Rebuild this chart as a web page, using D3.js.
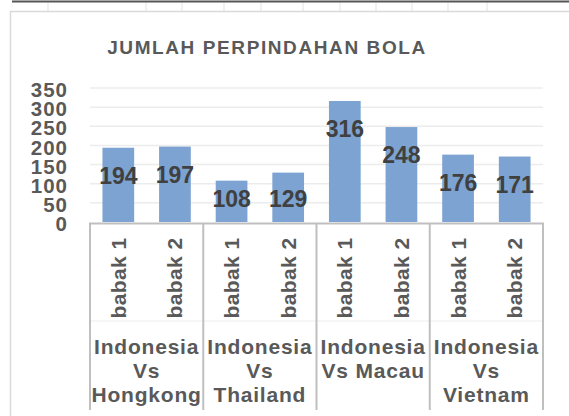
<!DOCTYPE html>
<html><head><meta charset="utf-8">
<script src="https://cdn.jsdelivr.net/npm/d3@7"></script>
<style>
html,body{margin:0;padding:0;background:#fff;}
svg{display:block;font-family:"Liberation Sans",Arial,sans-serif;}
</style></head>
<body><svg id="c" width="569" height="416"></svg>
<script>
const title = "JUMLAH PERPINDAHAN BOLA";
const groups = [["Indonesia","Vs","Hongkong"],["Indonesia","Vs","Thailand"],["Indonesia","Vs Macau"],["Indonesia","Vs","Vietnam"]];
const halves = ["babak 1","babak 2"];
const values = [194,197,108,129,316,248,176,171];
const yTicks = [0,50,100,150,200,250,300,350];

const svg = d3.select("#c");
// spreadsheet remnants above chart
const sheetCols = [48,146,182,224,261,303,340,376,412,448,487];
svg.selectAll("line.sc").data(sheetCols).join("line")
  .attr("x1",d=>d).attr("x2",d=>d).attr("y1",2).attr("y2",11)
  .attr("stroke","#e3e3e3").attr("stroke-width",1);
svg.append("line").attr("x1",12).attr("x2",569).attr("y1",1.5).attr("y2",1.5)
  .attr("stroke","#555").attr("stroke-width",2);
// chart border
svg.append("path").attr("d","M10.5,416 V11.5 H569").attr("fill","none")
  .attr("stroke","#d9d9d9").attr("stroke-width",1.5);

svg.append("text").attr("x",267).attr("y",54).attr("text-anchor","middle")
  .attr("font-size",19).attr("font-weight","bold").attr("fill","#595959")
  .attr("letter-spacing","1.6px").text(title);

const cats = [];
groups.forEach((g,gi)=>halves.forEach((h,hi)=>cats.push(gi+"|"+hi)));

const x = d3.scaleBand().domain(cats).range([90,543]).paddingInner(0.44).paddingOuter(0.22);
const y = d3.scaleLinear().domain([0,350]).range([222,88]);

// gridlines
svg.append("g").selectAll("line").data(yTicks.filter(t=>t>0)).join("line")
  .attr("x1",90).attr("x2",543).attr("y1",d=>y(d)).attr("y2",d=>y(d))
  .attr("stroke","#ececec").attr("stroke-width",1.5);

// y axis labels
const yAxis = d3.axisLeft(y).tickValues(yTicks).tickSize(0).tickPadding(0);
const ya = svg.append("g").attr("transform","translate(68,0)").call(yAxis);
ya.select(".domain").remove();
ya.selectAll("text").attr("font-size",20.5).attr("font-weight","bold").attr("fill","#595959")
  .attr("font-family","'Liberation Sans',Arial,sans-serif").attr("letter-spacing","1px")
  .attr("dy","0.42em");

// bars
svg.append("g").selectAll("rect").data(values).join("rect")
  .attr("x",(d,i)=>x(cats[i])).attr("width",x.bandwidth())
  .attr("y",d=>y(d)).attr("height",d=>y(0)-y(d))
  .attr("fill","#7ca3d1");

// data labels
svg.append("g").selectAll("text").data(values).join("text")
  .attr("x",(d,i)=>x(cats[i])+x.bandwidth()/2)
  .attr("y",d=>Math.min(y(d)+28, y(0)-23.5))
  .attr("dy","0.36em").attr("text-anchor","middle")
  .attr("font-size",23).attr("font-weight","bold").attr("fill","#404040")
  .text(d=>d);

// category axis boxes
const gap = (x.step()-x.bandwidth())/2;
const bounds = groups.map((g,gi)=>x(gi+"|0")-gap);
bounds.push(x(cats[cats.length-1])+x.bandwidth()+gap);
const axg = svg.append("g");
axg.append("line").attr("x1",bounds[0]).attr("x2",bounds[bounds.length-1]).attr("y1",321).attr("y2",321)
  .attr("stroke","#ededed").attr("stroke-width",1);
axg.selectAll("line.v").data(bounds).join("line").attr("class","v")
  .attr("x1",d=>d).attr("x2",d=>d).attr("y1",223).attr("y2",410)
  .attr("stroke","#bfbfbf").attr("stroke-width",2);
axg.append("line").attr("x1",bounds[0]-1).attr("x2",bounds[bounds.length-1]+1).attr("y1",223.5).attr("y2",223.5)
  .attr("stroke","#bfbfbf").attr("stroke-width",2);

// rotated half labels
svg.append("g").selectAll("text").data(cats).join("text")
  .attr("transform",d=>`translate(${x(d)+x.bandwidth()/2+7.5},278) rotate(-90)`)
  .attr("text-anchor","middle")
  .attr("font-size",21).attr("font-weight","bold").attr("fill","#595959")
  .attr("letter-spacing","0.4px")
  .text(d=>halves[+d.split("|")[1]]);

// group labels
groups.forEach((g,gi)=>{
  const cx = (bounds[gi]+bounds[gi+1])/2;
  const t = svg.append("text").attr("text-anchor","middle")
    .attr("font-size",21).attr("font-weight","bold").attr("fill","#595959")
    .attr("letter-spacing","0.8px");
  g.forEach((line,li)=>{
    t.append("tspan").attr("x",cx).attr("y",354+li*24).text(line);
  });
});
</script></body></html>
